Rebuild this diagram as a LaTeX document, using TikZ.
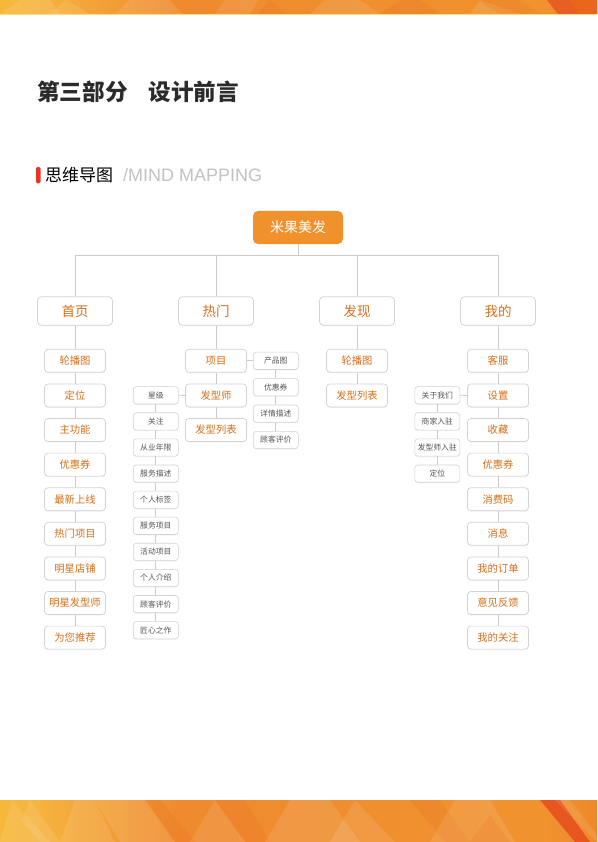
\documentclass[tikz,border=0pt]{standalone}
\usepackage{fontspec}
\newfontfamily\cjk{Noto Sans CJK SC}
\newfontfamily\latinsans{Liberation Sans}
\usetikzlibrary{positioning,shadows}
\definecolor{rootor}{HTML}{F0912C}
\definecolor{ortext}{HTML}{D4701A}
\definecolor{bordergray}{HTML}{D2D2D2}
\definecolor{linegray}{HTML}{CBCBCB}
\definecolor{smalltext}{HTML}{555555}
\definecolor{titlegray}{HTML}{2B2B2B}
\definecolor{redbar}{HTML}{E8352A}
\definecolor{mindgray}{HTML}{C2C2C2}
\definecolor{bA}{HTML}{F5B42A}
\definecolor{bB}{HTML}{FCC82A}
\definecolor{bC}{HTML}{F6B43E}
\definecolor{bD}{HTML}{EF8A2E}
\definecolor{bE}{HTML}{F0932E}
\definecolor{bF}{HTML}{EC7424}
\definecolor{bG}{HTML}{E85620}
\definecolor{bH}{HTML}{EA6A18}
\pgfdeclarehorizontalshading{band}{100bp}{color(0bp)=(bA); color(12bp)=(bB); color(28bp)=(bC); color(40bp)=(bD); color(70bp)=(bE); color(85bp)=(bF); color(93bp)=(bG); color(100bp)=(bH)}
\tikzset{
  conn/.style={draw=linegray, line width=0.8pt},
  boxshadow/.style={drop shadow={opacity=0.10, shadow xshift=0pt, shadow yshift=-0.9pt}},
  rootbox/.style={fill=rootor, rounded corners=5pt, minimum width=90pt, minimum height=33pt, inner sep=0pt, text=white, font=\cjk\fontsize{14}{14}\selectfont},
  lvone/.style={boxshadow, draw=bordergray, fill=white, line width=0.7pt, rounded corners=4pt, minimum width=75pt, minimum height=28.5pt, inner sep=0pt, text=ortext, font=\cjk\fontsize{13.5}{14}\selectfont},
  lvtwo/.style={boxshadow, draw=bordergray, fill=white, line width=0.7pt, rounded corners=3.5pt, minimum width=61pt, minimum height=23pt, inner sep=0pt, text=ortext, font=\cjk\fontsize{10.3}{11}\selectfont},
  lvthree/.style={boxshadow, draw=bordergray, fill=white, line width=0.6pt, rounded corners=3pt, minimum width=45pt, minimum height=17.3pt, inner sep=0pt, text=smalltext, font=\cjk\fontsize{7.8}{8}\selectfont},
  facet/.style={fill=white, fill opacity=0.10, draw=none},
  facetd/.style={fill=bG, fill opacity=0.13, draw=none}
}
\begin{document}
\begin{tikzpicture}[x=1pt,y=-1pt]
\useasboundingbox (0,0) rectangle (597,842);
\fill[white] (0,0) rectangle (597,842);
% top band
\shade[shading=band] (0,0) rectangle (597,14);
\fill[bB!60!white] (0,14) rectangle (597,15.5);
\fill[facet] (0,14) -- (20,0) -- (50,0) -- (60,14) -- cycle;
\fill[facet] (50,14) -- (66,0) -- (90,14) -- cycle;
\fill[facet] (115,14) -- (130,0) -- (170,0) -- (182,14) -- cycle;
\fill[facet] (215,14) -- (225,0) -- (258,0) -- (250,14) -- cycle;
\fill[facetd] (258,14) -- (270,0) -- (285,14) -- cycle;
\fill[facet] (310,14) -- (325,0) -- (360,0) -- (380,14) -- cycle;
\fill[facetd] (380,14) -- (400,0) -- (420,0) -- (440,14) -- cycle;
\fill[facet] (470,14) -- (480,0) -- (520,14) -- cycle;
\fill[facetd] (478,0) -- (500,14) -- (540,14) -- (520,0) -- cycle;
\fill[bG, fill opacity=0.85] (547,0) -- (597,0) -- (597,14) -- (558,14) -- cycle;
\fill[bH, fill opacity=0.7] (570,0) -- (597,0) -- (597,14) -- (580,14) -- cycle;
% bottom band
\shade[shading=band] (0,800) rectangle (597,842);
\fill[facet] (0,842) -- (12,800) -- (50,842) -- cycle;
\fill[facet] (22,820) -- (30,800) -- (60,842) -- (40,842) -- cycle;
\fill[facet] (60,842) -- (75,800) -- (95,800) -- (115,842) -- cycle;
\fill[facet] (95,800) -- (145,800) -- (175,842) -- (120,842) -- cycle;
\fill[facetd] (145,800) -- (160,800) -- (195,842) -- (175,842) -- cycle;
\fill[facet] (190,842) -- (215,800) -- (245,842) -- cycle;
\fill[facetd] (215,800) -- (245,800) -- (270,842) -- (245,842) -- cycle;
\fill[facet] (265,842) -- (290,800) -- (330,800) -- (360,842) -- cycle;
\fill[facet] (330,842) -- (355,800) -- (395,842) -- cycle;
\fill[facetd] (410,800) -- (440,800) -- (470,842) -- (445,842) -- cycle;
\fill[facet] (430,842) -- (455,800) -- (490,800) -- (515,842) -- cycle;
\fill[facetd] (470,842) -- (490,815) -- (510,842) -- cycle;
\fill[bG] (540,800) -- (560,800) -- (590,842) -- (575,842) -- cycle;
\fill[facet] (555,800) -- (570,800) -- (597,835) -- (597,842) -- cycle;

% title
\node[anchor=west, text=titlegray, font=\cjk\bfseries\fontsize{22.6}{24}\selectfont, inner sep=0pt] (title) at (37,92) {第三部分\hspace{21pt}设计前言};
\fill[redbar, rounded corners=1.5pt] (36,167) rectangle (40.5,183.5);
\node[anchor=west, text=black, font=\cjk\fontsize{17}{18}\selectfont, inner sep=0pt] (mind) at (45,175.5) {思维导图};
\node[anchor=west, text=mindgray, font=\latinsans\fontsize{18}{18}\selectfont, inner sep=0pt] (mindeng) at (123,175.3) {/MIND MAPPING};

% root
\node[rootbox] (root) at (298,227.5) {米果美发};
\coordinate (bus) at (298,255.3);
% level 1
\node[lvone] (sy) at (75,311) {首页};
\node[lvone] (rm) at (216,311) {热门};
\node[lvone] (fx) at (357,311) {发现};
\node[lvone] (wd) at (498,311) {我的};
\draw[conn] (root.south) -- (bus);
\draw[conn] (sy.north) |- (bus);
\draw[conn] (rm.north) |- (bus);
\draw[conn] (fx.north) |- (bus);
\draw[conn] (wd.north) |- (bus);

% column 1: 首页
\foreach \t [count=\i] in {轮播图,定位,主功能,优惠券,最新上线,热门项目,明星店铺,明星发型师,为您推荐}{
  \node[lvtwo] (a\i) at (75,{360.8+34.6*(\i-1)}) {\t};
}
\draw[conn] (sy.south) -- (a1.north);
\foreach \i [evaluate=\i as \j using int(\i+1)] in {1,...,8}{ \draw[conn] (a\i.south) -- (a\j.north); }

% column 2: 热门
\node[lvtwo] (b1) at (216,360.8) {项目};
\node[lvtwo] (b2) at (216,395.4) {发型师};
\node[lvtwo] (b3) at (216,430) {发型列表};
\draw[conn] (rm.south) -- (b1.north);
\draw[conn] (b1.south) -- (b2.north);
\draw[conn] (b2.south) -- (b3.north);
\foreach \t [count=\i] in {星级,关注,从业年限,服务描述,个人标签,服务项目,活动项目,个人介绍,顾客评价,匠心之作}{
  \node[lvthree] (c\i) at (155.8,{395.3+26.1*(\i-1)}) {\t};
}
\draw[conn] (c1.east) -- (b2.west);
\foreach \i [evaluate=\i as \j using int(\i+1)] in {1,...,9}{ \draw[conn] (c\i.south) -- (c\j.north); }
\foreach \t [count=\i] in {产品图,优惠券,详情描述,顾客评价}{
  \node[lvthree] (d\i) at (275.8,{360.8+26.4*(\i-1)}) {\t};
}
\draw[conn] (b1.east) -- (d1.west);
\foreach \i [evaluate=\i as \j using int(\i+1)] in {1,...,3}{ \draw[conn] (d\i.south) -- (d\j.north); }

% column 3: 发现
\node[lvtwo] (e1) at (357,360.8) {轮播图};
\node[lvtwo] (e2) at (357,395.4) {发型列表};
\draw[conn] (fx.south) -- (e1.north);
\draw[conn] (e1.south) -- (e2.north);

% column 4: 我的
\foreach \t [count=\i] in {客服,设置,收藏,优惠券,消费码,消息,我的订单,意见反馈,我的关注}{
  \node[lvtwo] (f\i) at (498,{360.8+34.6*(\i-1)}) {\t};
}
\draw[conn] (wd.south) -- (f1.north);
\foreach \i [evaluate=\i as \j using int(\i+1)] in {1,...,8}{ \draw[conn] (f\i.south) -- (f\j.north); }
\foreach \t [count=\i] in {关于我们,商家入驻,发型师入驻,定位}{
  \node[lvthree] (g\i) at (437.3,{395.3+26.1*(\i-1)}) {\t};
}
\draw[conn] (g1.east) -- (f2.west);
\foreach \i [evaluate=\i as \j using int(\i+1)] in {1,...,3}{ \draw[conn] (g\i.south) -- (g\j.north); }
\end{tikzpicture}
\end{document}
